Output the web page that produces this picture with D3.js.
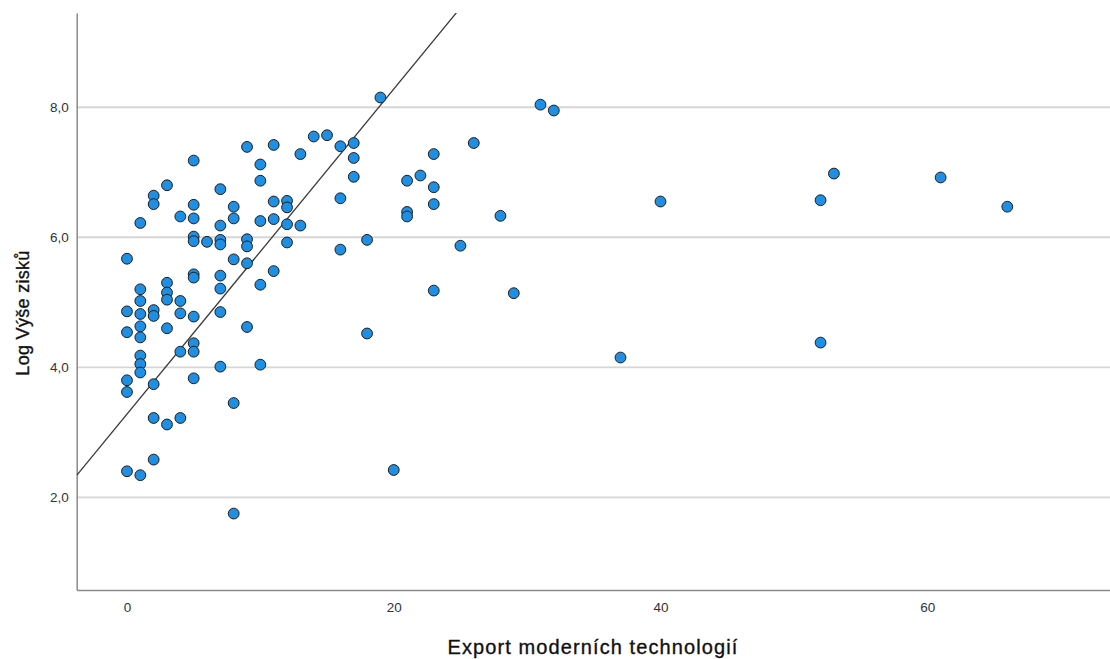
<!DOCTYPE html>
<html>
<head>
<meta charset="utf-8">
<script src="https://cdn.jsdelivr.net/npm/d3@7"></script>
<style>
  html, body { margin: 0; padding: 0; background: #fff; }
  svg { display: block; font-family: "Liberation Sans", Arial, sans-serif; }
</style>
</head>
<body>
<svg id="chart" width="1110" height="659"></svg>
<script>
// Export of modern technologies (x) against log of profit (y)
const exportTech = [
  0, 0, 0, 0, 0, 0,
  1, 1, 1, 1, 1, 1, 1, 1, 1, 1,
  2, 2, 2, 2, 2, 2, 2,
  3, 3, 3, 3, 3, 3,
  4, 4, 4, 4, 4,
  5, 5, 5, 5, 5, 5, 5, 5, 5, 5, 5,
  6,
  7, 7, 7, 7, 7, 7, 7, 7,
  8, 8, 8, 8, 8,
  9, 9, 9, 9, 9,
  10, 10, 10, 10, 10,
  11, 11, 11, 11,
  12, 12, 12, 12,
  13, 13,
  14, 15,
  16, 16, 16,
  17, 17, 17,
  18, 18,
  19, 20,
  21, 21, 21,
  22,
  23, 23, 23, 23,
  25, 26, 28, 29, 31, 32, 37, 40,
  52, 52, 53, 61, 66
];
const logProfit = [
  5.67, 4.86, 4.54, 3.80, 3.62, 2.40,
  6.22, 5.20, 5.02, 4.82, 4.63, 4.46, 4.18, 4.05, 3.92, 2.34,
  6.64, 6.51, 4.88, 4.79, 3.74, 3.22, 2.58,
  6.80, 5.30, 5.15, 5.04, 4.60, 3.12,
  6.32, 5.02, 4.83, 4.24, 3.22,
  7.18, 6.50, 6.29, 6.01, 5.94, 5.43, 5.38, 4.78, 4.37, 4.24, 3.83,
  5.93,
  6.74, 6.18, 5.96, 5.89, 5.41, 5.21, 4.85, 4.01,
  6.47, 6.29, 5.66, 3.45, 1.75,
  7.39, 5.97, 5.86, 5.60, 4.62,
  7.12, 6.87, 6.25, 5.27, 4.04,
  7.42, 6.55, 6.28, 5.48,
  6.56, 6.46, 6.20, 5.92,
  7.28, 6.18,
  7.55, 7.57,
  7.40, 6.60, 5.81,
  7.45, 7.22, 6.93,
  5.96, 4.52,
  8.15, 2.42,
  6.87, 6.39, 6.32,
  6.95,
  7.28, 6.77, 6.51, 5.18,
  5.87, 7.45, 6.33, 5.14, 8.04, 7.95, 4.15, 6.55,
  6.57, 4.38, 6.98, 6.92, 6.47
];

// Axis ticks and titles
const xTicks = [0, 20, 40, 60];
const yTicks = [2, 4, 6, 8];
const xTitle = "Export moderních technologií";
const yTitle = "Log Výše zisků";

// Reference line: intercept and slope
const fitIntercept = 3.28;
const fitSlope = 0.25;

const plot = { left: 76.7, right: 1110, top: 13, bottom: 590 };

const x = d3.scaleLinear().domain([-3.77, 73.7]).range([plot.left, plot.right]);
const y = d3.scaleLinear().domain([0.574, 9.45]).range([plot.bottom, plot.top]);

const svg = d3.select("#chart");

svg.append("defs").append("clipPath").attr("id", "plot-clip")
  .append("rect")
  .attr("x", plot.left).attr("y", plot.top)
  .attr("width", plot.right - plot.left).attr("height", plot.bottom - plot.top);

// Horizontal gridlines
svg.append("g")
  .selectAll("line")
  .data(yTicks)
  .join("line")
  .attr("x1", plot.left).attr("x2", plot.right)
  .attr("y1", d => y(d)).attr("y2", d => y(d))
  .attr("stroke", "#d6d6d6")
  .attr("stroke-width", 1.8);

// Y axis
const yAxis = svg.append("g")
  .attr("transform", `translate(${plot.left},0)`)
  .call(d3.axisLeft(y).tickValues(yTicks).tickSize(0).tickPadding(8)
    .tickFormat(d => d3.format(".1f")(d).replace(".", ",")));
yAxis.select(".domain").attr("stroke", "#8a8a8a").attr("stroke-width", 1.5);
yAxis.selectAll("text").attr("font-size", 13.5).attr("fill", "#333")
  .attr("font-family", "Liberation Sans, Arial, sans-serif");

// X axis
const xAxis = svg.append("g")
  .attr("transform", `translate(0,${plot.bottom})`)
  .call(d3.axisBottom(x).tickValues(xTicks).tickSize(0).tickPadding(12)
    .tickFormat(d3.format("d")));
xAxis.select(".domain").attr("stroke", "#8a8a8a").attr("stroke-width", 1.5);
xAxis.selectAll("text").attr("font-size", 13.5).attr("fill", "#333")
  .attr("font-family", "Liberation Sans, Arial, sans-serif");

// Straight reference line, clipped to the plot area
const xs = x.domain();
svg.append("line")
  .attr("clip-path", "url(#plot-clip)")
  .attr("x1", x(xs[0])).attr("y1", y(fitIntercept + fitSlope * xs[0]))
  .attr("x2", x(xs[1])).attr("y2", y(fitIntercept + fitSlope * xs[1]))
  .attr("stroke", "#3a3a3a")
  .attr("stroke-width", 1.3);

// Points
const points = exportTech.map((v, i) => ({ x: v, y: logProfit[i] }));
svg.append("g")
  .selectAll("circle")
  .data(points)
  .join("circle")
  .attr("cx", d => x(d.x))
  .attr("cy", d => y(d.y))
  .attr("r", 5.4)
  .attr("fill", "#1f8fe3")
  .attr("stroke", "#1c1c1c")
  .attr("stroke-width", 1);

// Axis titles
svg.append("text")
  .attr("x", 593)
  .attr("y", 654)
  .attr("text-anchor", "middle")
  .attr("font-size", 20)
  .attr("letter-spacing", 1.1)
  .attr("stroke", "#111")
  .attr("stroke-width", 0.35)
  .attr("fill", "#111")
  .text(xTitle);

svg.append("text")
  .attr("transform", `translate(29,313) rotate(-90)`)
  .attr("text-anchor", "middle")
  .attr("font-size", 18)
  .attr("letter-spacing", 0.3)
  .attr("stroke", "#111")
  .attr("stroke-width", 0.35)
  .attr("fill", "#111")
  .text(yTitle);
</script>
</body>
</html>
